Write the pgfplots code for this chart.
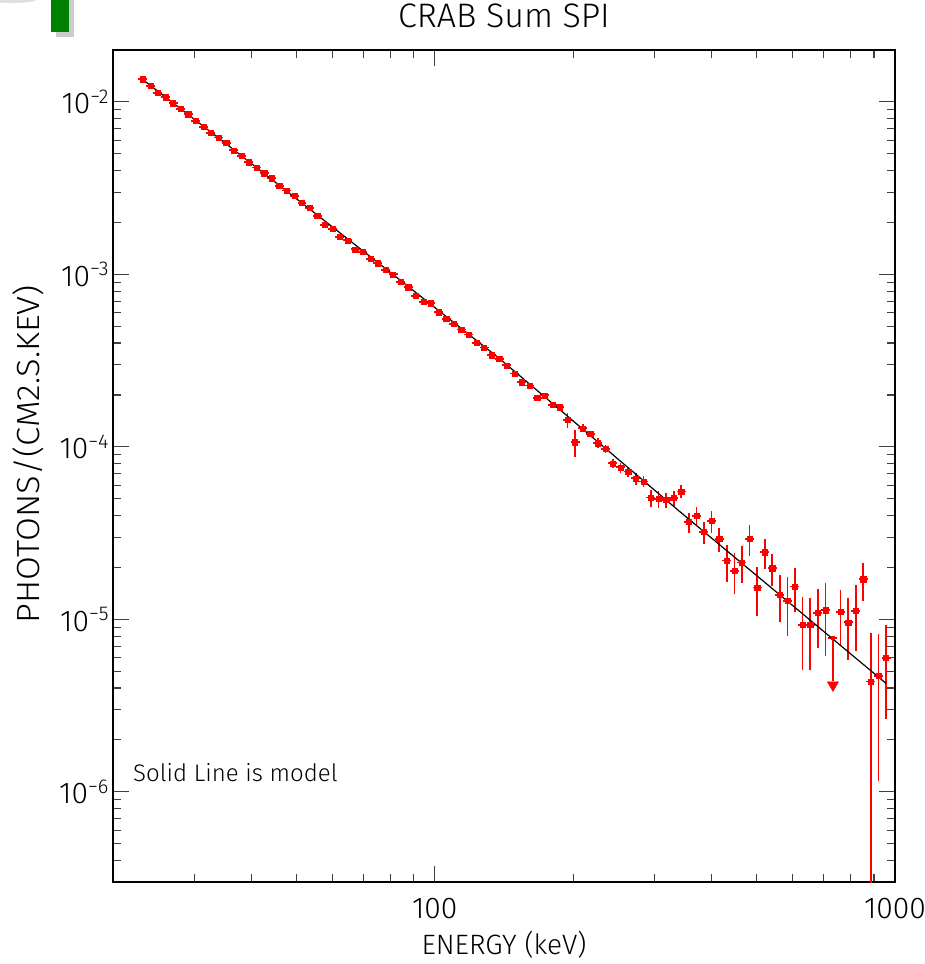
\documentclass[border=0pt]{standalone}
\usepackage{pgfplots}
\pgfplotsset{compat=1.18}
\usepackage{pgfplotstable}
\usepackage{fontspec}
\setmainfont{Fira Sans Light}

% energy (keV), flux, error plus, error minus
\pgfplotstableread{
x y ep em
23.21 1.353e-2 2.7e-4 2.7e-4
24.11 1.242e-2 2.5e-4 2.5e-4
25.04 1.127e-2 2.3e-4 2.3e-4
26.01 1.064e-2 2.1e-4 2.1e-4
27.01 9.82e-3 2.0e-4 2.0e-4
28.06 9.13e-3 1.8e-4 1.8e-4
29.14 8.48e-3 1.7e-4 1.7e-4
30.27 7.75e-3 1.6e-4 1.6e-4
31.44 7.18e-3 1.4e-4 1.4e-4
32.66 6.60e-3 1.3e-4 1.3e-4
33.92 6.23e-3 1.2e-4 1.2e-4
35.23 5.78e-3 1.2e-4 1.2e-4
36.60 5.24e-3 1.0e-4 1.0e-4
38.01 4.88e-3 1.0e-4 1.0e-4
39.48 4.47e-3 9e-5 9e-5
41.01 4.16e-3 8e-5 8e-5
42.59 3.86e-3 8e-5 8e-5
44.24 3.61e-3 7e-5 7e-5
45.95 3.27e-3 7e-5 7e-5
47.73 3.06e-3 6e-5 6e-5
49.57 2.86e-3 6e-5 6e-5
51.49 2.60e-3 5e-5 5e-5
53.48 2.43e-3 5e-5 5e-5
55.55 2.19e-3 4.4e-5 4.4e-5
57.70 1.941e-3 3.9e-5 3.9e-5
59.93 1.840e-3 3.7e-5 3.7e-5
62.25 1.654e-3 3.3e-5 3.3e-5
64.65 1.576e-3 3.2e-5 3.2e-5
67.15 1.398e-3 2.8e-5 2.8e-5
69.75 1.354e-3 2.7e-5 2.7e-5
72.45 1.233e-3 2.5e-5 2.5e-5
75.25 1.160e-3 2.3e-5 2.3e-5
78.16 1.065e-3 2.1e-5 2.1e-5
81.18 1.001e-3 2.0e-5 2.0e-5
84.32 9.07e-4 1.8e-5 1.8e-5
87.58 8.42e-4 1.7e-5 1.7e-5
90.97 7.52e-4 1.5e-5 1.5e-5
94.49 6.94e-4 1.4e-5 1.4e-5
98.14 6.80e-4 1.4e-5 1.4e-5
101.9 6.03e-4 1.2e-5 1.2e-5
105.9 5.51e-4 1.4e-5 1.4e-5
110.0 5.16e-4 1.3e-5 1.3e-5
114.2 4.80e-4 1.2e-5 1.2e-5
118.6 4.49e-4 1.1e-5 1.1e-5
123.2 4.02e-4 1.0e-5 1.0e-5
128.0 3.77e-4 9.4e-6 9.4e-6
132.9 3.40e-4 8.5e-6 8.5e-6
138.1 3.23e-4 8.1e-6 8.1e-6
143.4 2.97e-4 7.4e-6 7.4e-6
149.0 2.66e-4 6.6e-6 6.6e-6
154.7 2.37e-4 5.9e-6 5.9e-6
160.7 2.27e-4 5.7e-6 5.7e-6
166.9 1.92e-4 5.8e-6 5.8e-6
173.4 1.99e-4 6.0e-6 6.0e-6
180.1 1.75e-4 6.2e-6 6.2e-6
187.1 1.70e-4 6.5e-6 6.5e-6
194.3 1.431e-4 1.40e-5 1.45e-5
201.8 1.063e-4 1.90e-5 1.89e-5
209.6 1.281e-4 7.0e-6 6.7e-6
217.7 1.187e-4 4.9e-6 4.7e-6
226.1 1.049e-4 7.2e-6 6.8e-6
234.9 9.72e-5 5.3e-6 5.1e-6
244.0 8.03e-5 4.7e-6 4.9e-6
253.4 7.61e-5 4.5e-6 5.6e-6
263.2 7.21e-5 4.3e-6 5.3e-6
273.4 6.57e-5 4.8e-6 5.6e-6
284.0 6.31e-5 4.6e-6 4.6e-6
294.9 5.08e-5 5.35e-6 6.05e-6
306.3 5.00e-5 5.4e-6 5.8e-6
318.2 4.92e-5 4.8e-6 5.0e-6
330.5 5.05e-5 4.9e-6 5.1e-6
343.3 5.51e-5 5.0e-6 4.6e-6
356.5 3.68e-5 4.5e-6 5.2e-6
370.3 3.97e-5 5.1e-6 4.5e-6
384.7 3.22e-5 4.5e-6 4.9e-6
399.5 3.72e-5 5.3e-6 5.5e-6
415.0 2.93e-5 4.5e-6 4.8e-6
431.0 2.19e-5 5.1e-6 5.4e-6
447.7 1.91e-5 5.1e-6 5.1e-6
465.0 2.14e-5 5.2e-6 5.2e-6
483.0 2.92e-5 6.0e-6 5.9e-6
501.7 1.53e-5 4.8e-6 4.9e-6
521.1 2.45e-5 4.7e-6 4.9e-6
541.2 1.98e-5 4.1e-6 4.2e-6
562.1 1.39e-5 4.1e-6 4.3e-6
583.9 1.28e-5 4.8e-6 4.8e-6
606.5 1.55e-5 4.4e-6 4.4e-6
629.9 9.31e-6 4.2e-6 4.2e-6
654.3 9.31e-6 4.0e-6 4.2e-6
679.6 1.09e-5 4.1e-6 4.1e-6
705.9 1.13e-5 5.0e-6 5.2e-6
761.5 1.107e-5 3.7e-6 4.0e-6
791.0 9.61e-6 3.7e-6 3.8e-6
821.5 1.122e-5 4.6e-6 4.7e-6
853.3 1.707e-5 4.1e-6 4.3e-6
886.3 4.37e-6 3.96e-6 4.30e-6
920.6 4.69e-6 3.53e-6 3.54e-6
956.2 5.97e-6 3.3e-6 3.33e-6
}\spidata

% model curve
\pgfplotstableread{
x y
23.27 1.3397e-2
35.03 5.779e-3
53.58 2.384e-3
84.05 9.28e-4
138.6 3.232e-4
206.8 1.3085e-4
341.0 4.207e-5
562.5 1.384e-5
955.8 4.257e-6
}\modeldata

\newcommand{\dec}[1]{10\raisebox{10.5pt}{\fontsize{20}{20}\selectfont −#1}}

\begin{document}
\begin{tikzpicture}
% logo fragment in the corner
\fill[gray!25] (12pt,964pt) ellipse (24pt and 3pt);
\fill[gray!40] (56pt,927pt) rectangle (74pt,964pt);
\fill[green!50!black] (51pt,932pt) rectangle (69pt,964pt);

\begin{axis}[
  at={(113pt,82pt)}, anchor=south west,
  scale only axis, width=782pt, height=832pt,
  xmode=log, ymode=log,
  xmin=20, xmax=1000, ymin=3e-7, ymax=2e-2,
  xtick={100,1000}, xticklabels={100,1000},
  minor xtick={30,40,50,60,70,80,90,200,300,400,500,600,700,800,900},
  ytick={1e-6,1e-5,1e-4,1e-3,1e-2},
  yticklabels={\dec{6},\dec{5},\dec{4},\dec{3},\dec{2}},
  minor ytick={4e-7,5e-7,6e-7,7e-7,8e-7,9e-7,
    2e-6,3e-6,4e-6,5e-6,6e-6,7e-6,8e-6,9e-6,
    2e-5,3e-5,4e-5,5e-5,6e-5,7e-5,8e-5,9e-5,
    2e-4,3e-4,4e-4,5e-4,6e-4,7e-4,8e-4,9e-4,
    2e-3,3e-3,4e-3,5e-3,6e-3,7e-3,8e-3,9e-3},
  tick align=inside,
  xtick pos=both, ytick pos=both,
  xticklabel pos=lower, yticklabel pos=left,
  major tick length=16pt, minor tick length=8pt,
  tick style={black!75, line width=1.1pt},
  axis line style={black, line width=1.3pt},
  tick label style={font=\fontsize{30}{30}\selectfont},
  xticklabel style={yshift=-13pt},
  yticklabel style={xshift=-1pt},
  title={CRAB Sum SPI},
  title style={font=\fontsize{34}{34}\selectfont, at={(axis description cs:0.5,1)}, anchor=base, yshift=17pt},
  xlabel={ENERGY (keV)},
  xlabel style={font=\fontsize{28}{28}\selectfont, at={(axis description cs:0.5,0)}, anchor=base, yshift=-72pt},
  ylabel={\scalebox{1.08}[1]{PHOTONS/(CM2.S.KEV)}},
  ylabel style={font=\fontsize{32}{32}\selectfont, at={(axis description cs:-0.0934,0.5144)}, anchor=base},
]
\addplot[red, only marks, mark=square*, mark size=2.6pt,
  error bars/.cd, x dir=both, x fixed relative=0.0225,
  y dir=both, y explicit,
  error bar style={line width=1.7pt, red}, error mark=none]
  table[x=x, y=y, y error plus=ep, y error minus=em] {\spidata};
% upper limit
\addplot[red, only marks, mark=square*, mark size=1.4pt,
  error bars/.cd, x dir=both, x fixed relative=0.0225,
  y dir=minus, y explicit,
  error bar style={line width=1.7pt, red}, error mark=none]
  coordinates {(733.2,7.83e-6) -= (0,3.44e-6)};
\addplot[red, only marks, mark=triangle*, mark size=6.5pt, mark options={rotate=180}]
  coordinates {(733.2,4.16e-6)};
% model
\addplot[black, line width=1.2pt, mark=none] table[x=x, y=y] {\modeldata};
\node[anchor=base west, inner sep=0pt, font=\fontsize{24}{24}\selectfont] at (rel axis cs:0.0256,0.1214) {Solid Line is model};
\end{axis}
\pgfresetboundingbox
\path[use as bounding box] (0pt,0pt) rectangle (925pt,964pt);
\end{tikzpicture}
\end{document}
